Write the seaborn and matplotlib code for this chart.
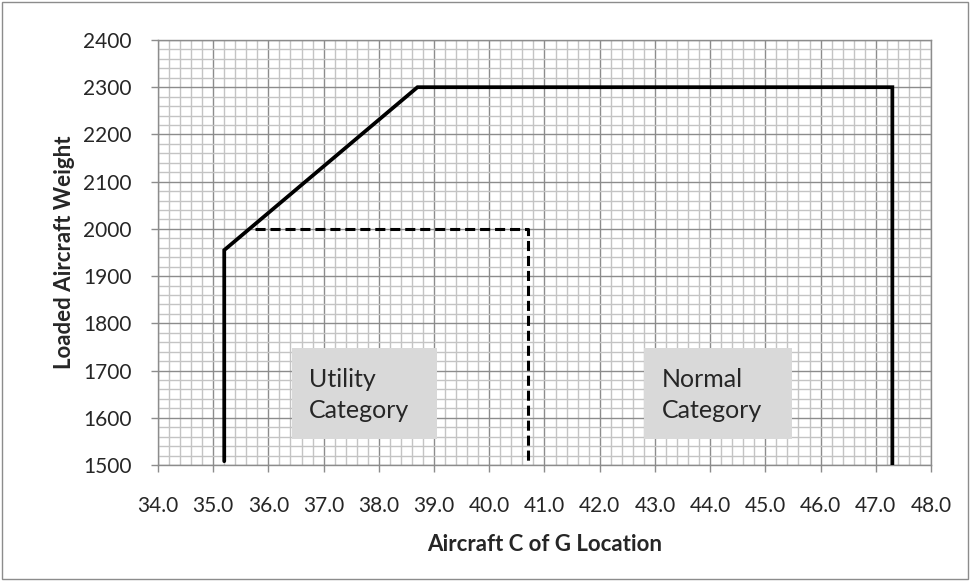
import pandas as pd
import matplotlib.pyplot as plt
import matplotlib.patches as patches
from matplotlib.ticker import MultipleLocator
import seaborn as sns

# envelope data
normal_cg = [35.2, 35.2, 38.7, 47.3, 47.3]
normal_wt = [1508, 1955, 2300, 2300, 1500]
utility_cg = [35.75, 40.7, 40.7]
utility_wt = [2000, 2000, 1500]

x_ticks = [34.0, 35.0, 36.0, 37.0, 38.0, 39.0, 40.0, 41.0, 42.0, 43.0, 44.0, 45.0, 46.0, 47.0, 48.0]
y_ticks = [1500, 1600, 1700, 1800, 1900, 2000, 2100, 2200, 2300, 2400]

sns.set_theme(style="white")
plt.rcParams['font.family'] = ['Lato', 'DejaVu Sans']

fig = plt.figure(figsize=(9.71, 5.81), dpi=100)
ax = fig.add_axes([0.1627, 0.1997, 0.7961, 0.7315])

df_n = pd.DataFrame({'cg': normal_cg, 'wt': normal_wt})
df_u = pd.DataFrame({'cg': utility_cg, 'wt': utility_wt})
sns.lineplot(data=df_n, x='cg', y='wt', sort=False, estimator=None, color='black', lw=2.7,
             ax=ax, solid_joinstyle='miter', zorder=5)
sns.lineplot(data=df_u, x='cg', y='wt', sort=False, estimator=None, color='black', lw=2.2,
             ax=ax, linestyle=(0, (3.3, 1.6)), zorder=5)

ax.set_xlim(34, 48)
ax.set_ylim(1500, 2400)
ax.set_xticks(x_ticks)
ax.set_xticklabels([f"{v:.1f}" for v in x_ticks])
ax.set_yticks(y_ticks)
ax.xaxis.set_minor_locator(MultipleLocator(0.2))
ax.yaxis.set_minor_locator(MultipleLocator(20))
ax.grid(which='minor', color='#c4c4c4', lw=1.0, zorder=0)
ax.grid(which='major', color='#8c8c8c', lw=1.0, zorder=1)
ax.set_axisbelow(True)
for s in ax.spines.values():
    s.set_color('#8c8c8c')
    s.set_linewidth(1.0)
ax.tick_params(which='major', direction='out', length=5, width=1, color='#8c8c8c',
               labelsize=15, bottom=True, left=True)
ax.tick_params(which='minor', length=0)
ax.tick_params(axis='x', pad=17)
ax.tick_params(axis='y', pad=14)

ax.set_xlabel('Aircraft C of G Location', fontsize=16, fontweight='bold', labelpad=13)
ax.set_ylabel('Loaded Aircraft Weight', fontsize=16, fontweight='bold', labelpad=6)

# category labels in grey boxes
for x0, x1, label in [(36.42, 39.06, 'Utility\nCategory'), (42.81, 45.49, 'Normal\nCategory')]:
    ax.add_patch(patches.Rectangle((x0, 1554), x1 - x0, 1747 - 1554, facecolor='#d9d9d9',
                                   edgecolor='none', zorder=3))
    ax.text(x0 + 0.32, 1648, label, fontsize=18, ha='left', va='center', linespacing=1.4,
            zorder=4)

fig.patches.append(patches.Rectangle((0.002, 0.003), 0.995, 0.994, transform=fig.transFigure,
                                     fill=False, edgecolor='#8c8c8c', lw=1.0))

fig.savefig('out.png', dpi=100)
